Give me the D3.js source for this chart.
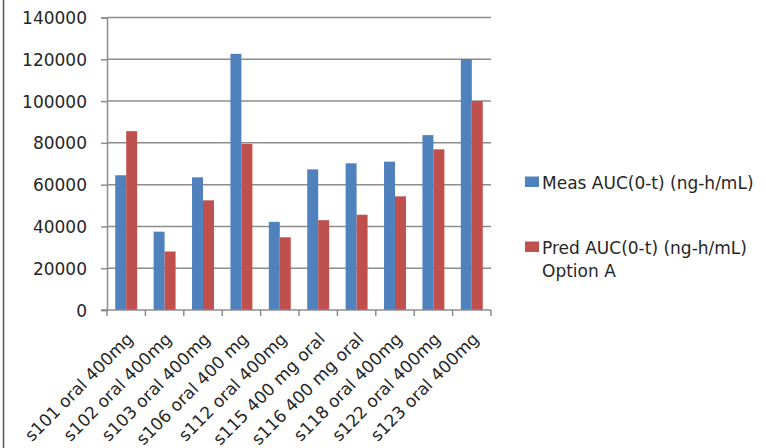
<!DOCTYPE html>
<html>
<head>
<meta charset="utf-8">
<script src="https://cdn.jsdelivr.net/npm/d3@7"></script>
<style>
  html, body { margin: 0; padding: 0; background: #fff; }
  svg { display: block; }
  text { font-family: "DejaVu Sans", sans-serif; fill: #262626; }
</style>
</head>
<body>
<svg id="chart" width="766" height="448"></svg>
<script>
// Subjects (x categories)
const categories = [
  "s101 oral 400mg", "s102 oral 400mg", "s103 oral 400mg", "s106 oral 400 mg",
  "s112 oral 400mg", "s115 400 mg oral", "s116 400 mg oral", "s118 oral 400mg",
  "s122 oral 400mg", "s123 oral 400mg"
];
// Measured AUC(0-t), ng-h/mL
const measAUC = [64500, 37500, 63500, 122600, 42200, 67300, 70200, 71000, 83700, 120100];
// Predicted AUC(0-t), ng-h/mL, Option A
const predAUC = [85600, 28000, 52500, 79500, 34800, 43000, 45600, 54400, 76900, 100000];
const seriesNames = ["Meas AUC(0-t) (ng-h/mL)", "Pred AUC(0-t) (ng-h/mL)|Option A"];
const seriesColors = ["#4F81BD", "#C0504D"];
const yTicks = [0, 20000, 40000, 60000, 80000, 100000, 120000, 140000];

const svg = d3.select("#chart");
const plot = { left: 107, right: 491, top: 17.5, bottom: 310 };

// outer frame edge on the left
svg.append("line")
  .attr("x1", 3.5).attr("x2", 3.5).attr("y1", 0).attr("y2", 448)
  .attr("stroke", "#555").attr("stroke-width", 1.5);

const x = d3.scaleBand().domain(categories).range([plot.left, plot.right]).paddingInner(0).paddingOuter(0);
const gapRatio = 1.5; // gap between groups, relative to one bar
const barW = x.bandwidth() / (2 + gapRatio);
const x1 = d3.scaleBand().domain([0, 1])
  .range([barW * gapRatio / 2, barW * gapRatio / 2 + 2 * barW]);

const y = d3.scaleLinear().domain([0, 140000]).range([plot.bottom, plot.top]);

// horizontal gridlines
svg.append("g")
  .selectAll("line").data(yTicks.slice(1)).join("line")
  .attr("x1", plot.left).attr("x2", plot.right)
  .attr("y1", d => y(d)).attr("y2", d => y(d))
  .attr("stroke", "#8c8c8c").attr("stroke-width", 1.5);

// Y axis
const yAxis = svg.append("g")
  .attr("transform", `translate(${plot.left},0)`)
  .call(d3.axisLeft(y).tickValues(yTicks).tickFormat(d3.format("d")).tickSize(6).tickPadding(14));
yAxis.select(".domain").attr("stroke", "#8c8c8c").attr("stroke-width", 1.5);
yAxis.selectAll(".tick line").attr("stroke", "#8c8c8c").attr("stroke-width", 1.5);
yAxis.selectAll(".tick text")
  .style("font-family", "DejaVu Sans").style("font-size", "17px").attr("fill", "#262626")
  .attr("dy", "0.36em");

// bars
const groups = svg.append("g").selectAll("g").data(categories).join("g")
  .attr("transform", d => `translate(${x(d)},0)`);
groups.selectAll("rect")
  .data((d, i) => [measAUC[i], predAUC[i]])
  .join("rect")
  .attr("x", (d, j) => x1(j))
  .attr("width", x1.bandwidth())
  .attr("y", d => y(d))
  .attr("height", d => y(0) - y(d))
  .attr("fill", (d, j) => seriesColors[j]);

// X axis with ticks at category boundaries
const xAxisG = svg.append("g").attr("transform", `translate(0,${plot.bottom})`);
xAxisG.append("line")
  .attr("x1", plot.left - 6).attr("x2", plot.right)
  .attr("stroke", "#8c8c8c").attr("stroke-width", 1.5);
const boundaries = categories.map(c => x(c)).concat([plot.right]);
xAxisG.selectAll("line.tk").data(boundaries).join("line")
  .attr("class", "tk")
  .attr("x1", d => d).attr("x2", d => d).attr("y1", 0).attr("y2", 6)
  .attr("stroke", "#8c8c8c").attr("stroke-width", 1.5);

// rotated category labels
xAxisG.selectAll("text").data(categories).join("text")
  .attr("transform", d => `translate(${x(d) + x.bandwidth() / 2 - 1},${21}) rotate(-45)`)
  .attr("text-anchor", "end")
  .attr("dy", "0.75em")
  .style("font-size", "17px")
  .text(d => d);

// legend
const legend = svg.append("g");
const legendRows = [{ y: 182, c: 0 }, { y: 247, c: 1 }];
legendRows.forEach(r => {
  legend.append("rect")
    .attr("x", 525).attr("y", r.y - 5.5).attr("width", 14).attr("height", 10.5)
    .attr("fill", seriesColors[r.c]);
  const lines = seriesNames[r.c].split("|");
  lines.forEach((t, k) => {
    legend.append("text")
      .attr("x", 542).attr("y", r.y + 7 + k * 23)
      .style("font-size", "17px")
      .text(t);
  });
});
</script>
</body>
</html>
